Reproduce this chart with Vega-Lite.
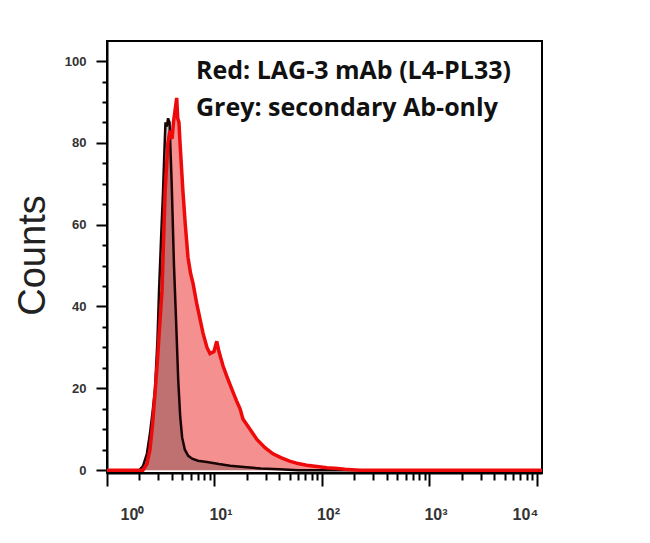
{
  "$schema": "https://vega.github.io/schema/vega-lite/v6.json",
  "autosize": "none",
  "padding": {"left": 107, "top": 41, "right": 108, "bottom": 70},
  "width": 435,
  "height": 432,
  "background": "white",
  "config": {
    "view": {"stroke": "black", "strokeWidth": 2},
    "axis": {"grid": false, "domainColor": "black", "domainWidth": 2, "tickColor": "black", "tickWidth": 2, "labelFont": "Liberation Sans", "labelColor": "#333", "labelFontWeight": "bold"}
  },
  "datasets": {
    "red": [
      {"x": 1, "count": 0}, {"x": 2.16, "count": 0}, {"x": 2.35, "count": 1.5}, {"x": 2.51, "count": 5},
      {"x": 2.65, "count": 11}, {"x": 2.8, "count": 19}, {"x": 2.95, "count": 27}, {"x": 3.05, "count": 33},
      {"x": 3.25, "count": 44}, {"x": 3.47, "count": 68}, {"x": 3.69, "count": 80}, {"x": 3.85, "count": 83},
      {"x": 4.03, "count": 81}, {"x": 4.15, "count": 85}, {"x": 4.3, "count": 88}, {"x": 4.45, "count": 91},
      {"x": 4.55, "count": 86}, {"x": 4.67, "count": 85}, {"x": 4.78, "count": 80}, {"x": 5.09, "count": 68},
      {"x": 5.35, "count": 60}, {"x": 5.67, "count": 52}, {"x": 6.0, "count": 48}, {"x": 6.31, "count": 45.7},
      {"x": 6.8, "count": 41}, {"x": 7.33, "count": 37}, {"x": 7.82, "count": 33.5}, {"x": 8.51, "count": 30},
      {"x": 9.08, "count": 28.5}, {"x": 9.89, "count": 29}, {"x": 10.5, "count": 31.5}, {"x": 11.0, "count": 29},
      {"x": 12.0, "count": 25.5}, {"x": 13.0, "count": 23}, {"x": 13.9, "count": 21}, {"x": 14.9, "count": 19},
      {"x": 16, "count": 17}, {"x": 17.3, "count": 15}, {"x": 18.4, "count": 12.5}, {"x": 21.4, "count": 10},
      {"x": 24.8, "count": 7.5}, {"x": 29.5, "count": 5.5}, {"x": 35, "count": 4}, {"x": 42, "count": 3},
      {"x": 50, "count": 2.2}, {"x": 60, "count": 1.6}, {"x": 72, "count": 1.2}, {"x": 90, "count": 0.9},
      {"x": 111, "count": 0.6}, {"x": 140, "count": 0.4}, {"x": 163, "count": 0.2}, {"x": 225, "count": 0},
      {"x": 11140, "count": 0}
    ],
    "black": [
      {"x": 1, "count": 0}, {"x": 2.0, "count": 0}, {"x": 2.16, "count": 1}, {"x": 2.35, "count": 4},
      {"x": 2.51, "count": 9}, {"x": 2.65, "count": 14}, {"x": 2.8, "count": 20}, {"x": 2.95, "count": 32},
      {"x": 3.05, "count": 44}, {"x": 3.2, "count": 58}, {"x": 3.32, "count": 68}, {"x": 3.42, "count": 78},
      {"x": 3.5, "count": 85}, {"x": 3.6, "count": 84}, {"x": 3.7, "count": 86}, {"x": 3.82, "count": 85},
      {"x": 3.9, "count": 78}, {"x": 4.0, "count": 70}, {"x": 4.2, "count": 50}, {"x": 4.4, "count": 36},
      {"x": 4.6, "count": 22}, {"x": 4.8, "count": 13}, {"x": 5.0, "count": 8}, {"x": 5.3, "count": 5},
      {"x": 5.7, "count": 3.5}, {"x": 6.2, "count": 2.8}, {"x": 7, "count": 2.3}, {"x": 8.5, "count": 2},
      {"x": 11, "count": 1.5}, {"x": 14, "count": 1.1}, {"x": 20, "count": 0.7}, {"x": 27, "count": 0.4},
      {"x": 40, "count": 0.2}, {"x": 60, "count": 0}, {"x": 11140, "count": 0}
    ],
    "notes": [
      {"x": 6.73, "count": 95.6, "label": "Red: LAG-3 mAb (L4-PL33)"},
      {"x": 6.73, "count": 86.6, "label": "Grey: secondary Ab-only"}
    ]
  },
  "encoding": {
    "x": {
      "field": "x", "type": "quantitative",
      "scale": {"type": "log", "domain": [1, 11140], "nice": false},
      "axis": {
        "title": null,
        "values": [1,2,3,4,5,6,7,8,9,10,20,30,40,50,60,70,80,90,100,200,300,400,500,600,700,800,900,1000,2000,3000,4000,5000,6000,7000,8000,9000,10000],
        "labelExpr": "datum.value == 1 ? '10⁰' : datum.value == 10 ? '10¹' : datum.value == 100 ? '10²' : datum.value == 1000 ? '10³' : datum.value == 10000 ? '10⁴' : ''",
        "labelOverlap": false,
        "labelOffset": {"condition": [{"test": "datum.value == 1", "value": 13}, {"test": "datum.value == 10000", "value": -12}], "value": 6},
        "labelFontSize": 16,
        "labelPadding": 20,
        "tickSize": {"condition": {"test": "datum.value == 1 || datum.value == 10 || datum.value == 100 || datum.value == 1000 || datum.value == 10000", "value": 13}, "value": 7}
      }
    },
    "y": {
      "field": "count", "type": "quantitative",
      "scale": {"domain": [-0.7, 104.9], "nice": false, "zero": false},
      "axis": {
        "values": [0,5,10,15,20,25,30,35,40,45,50,55,60,65,70,75,80,85,90,95,100],
        "labelExpr": "datum.value % 20 === 0 ? datum.label : ''",
        "labelOverlap": false,
        "labelFontSize": 13,
        "labelPadding": 10,
        "tickSize": {"condition": {"test": "datum.value % 20 === 0", "value": 11}, "value": 5},
        "title": "Counts",
        "titleFont": "Liberation Sans",
        "titleFontSize": 38,
        "titleFontWeight": "normal",
        "titleColor": "#222",
        "titleBaseline": "alphabetic",
        "titleX": -63,
        "titleY": 214
      }
    }
  },
  "layer": [
    {"data": {"name": "red"}, "mark": {"type": "area", "color": "#f59090", "clip": true}},
    {"data": {"name": "black"}, "mark": {"type": "area", "color": "#000000", "opacity": 0.22, "clip": true}},
    {"data": {"name": "black"}, "mark": {"type": "line", "color": "#1a0505", "strokeWidth": 2.5, "clip": true}},
    {"data": {"name": "red"}, "mark": {"type": "line", "color": "#ee0a0a", "strokeWidth": 3.5, "clip": true}},
    {"data": {"name": "notes"}, "mark": {"type": "text", "align": "left", "baseline": "alphabetic", "font": "Open Sans", "fontWeight": "bold", "fontSize": 25, "color": "#111"},
     "encoding": {"text": {"field": "label"}}}
  ]
}
